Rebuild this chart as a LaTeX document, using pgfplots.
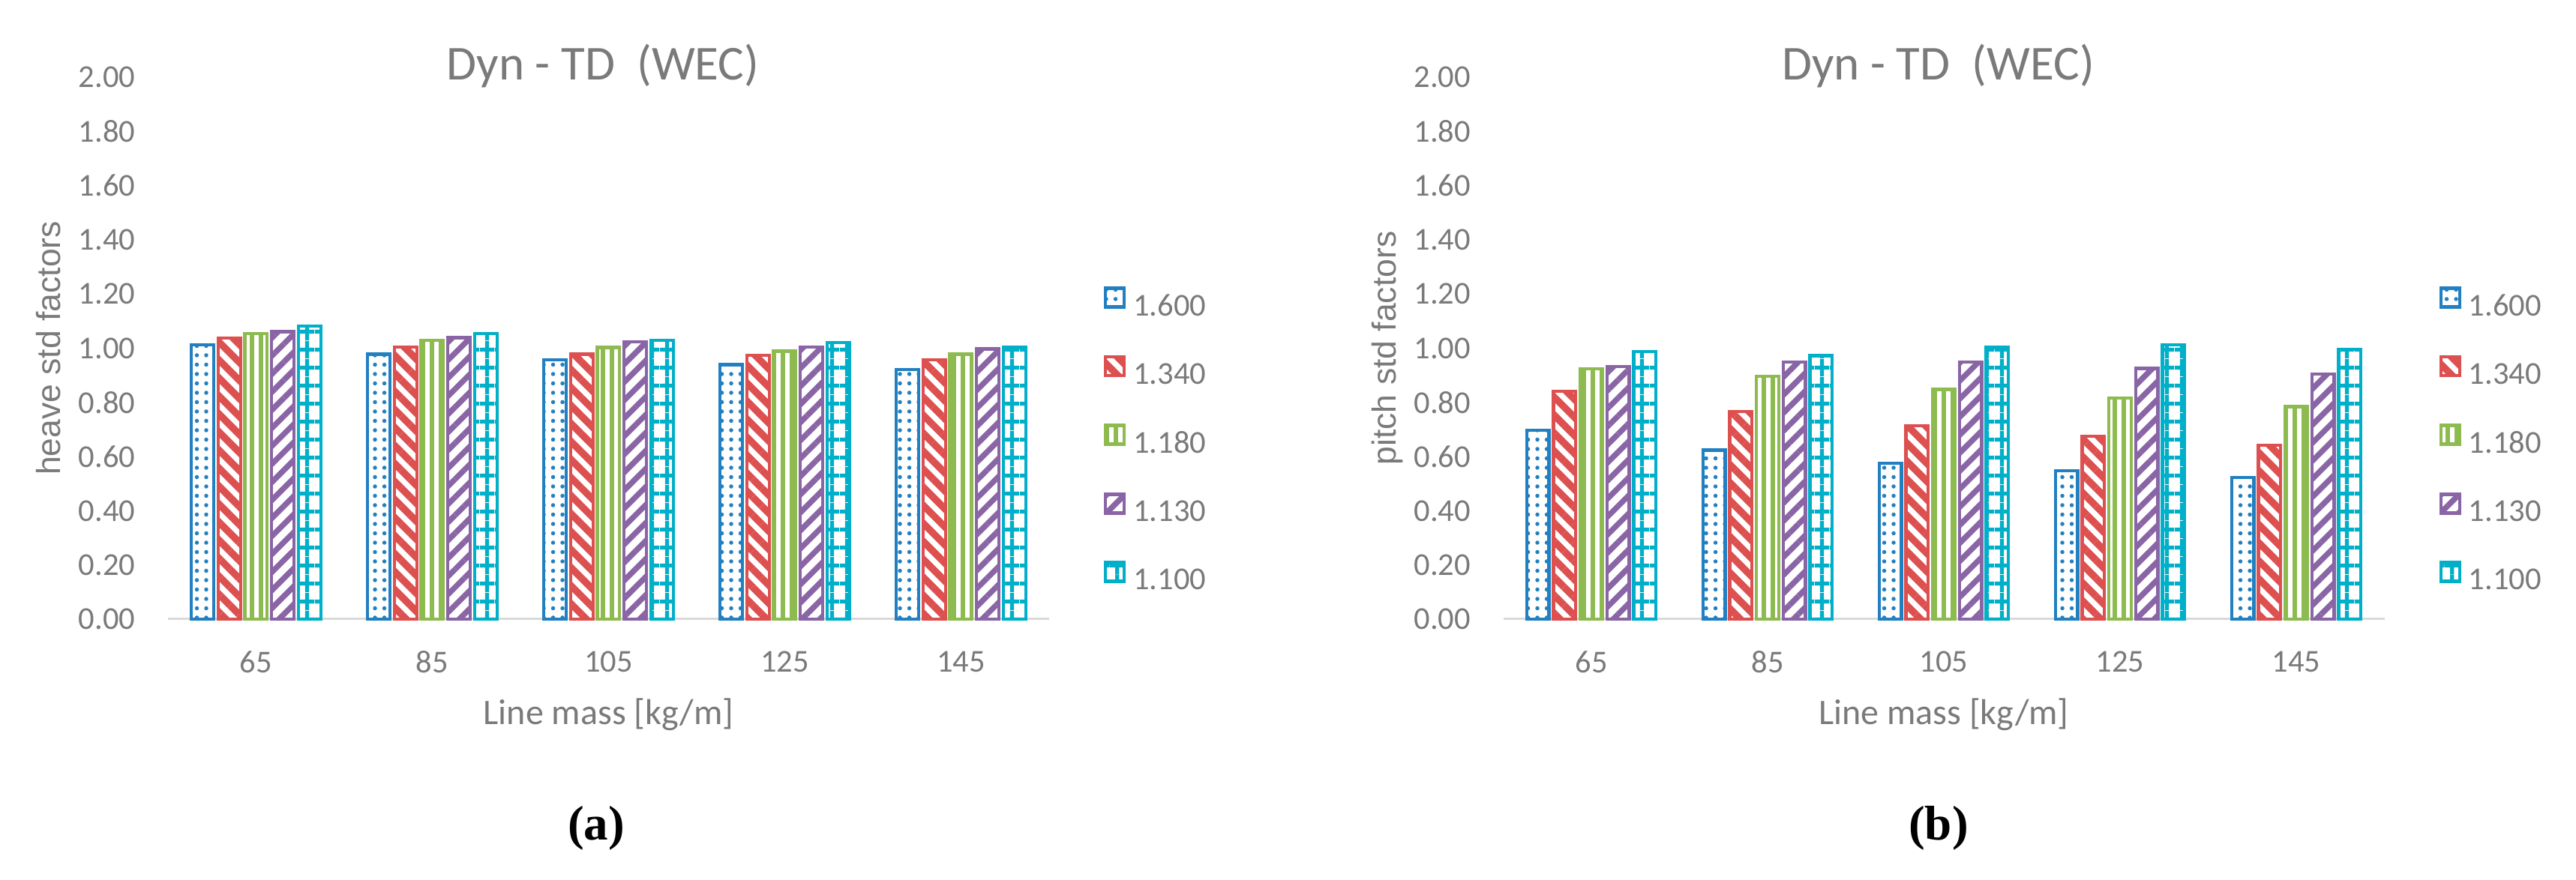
\documentclass[border=0pt]{standalone}
\usepackage{pgfplots}
\pgfplotsset{compat=1.18}
\usepackage{fontspec}
\setmainfont{Carlito}
\newfontfamily\labfont{Liberation Sans}
\newfontfamily\capfont{Liberation Serif}
\usetikzlibrary{patterns.meta}

\definecolor{cblue}{HTML}{2280C1}
\definecolor{cred}{HTML}{DD5050}
\definecolor{cgreen}{HTML}{8EBB50}
\definecolor{cpurple}{HTML}{8A65A6}
\definecolor{ccyan}{HTML}{01AFC8}
\definecolor{tcol}{HTML}{7A7A7A}
\definecolor{basecol}{HTML}{D9D9D9}

\tikzdeclarepattern{
  name=BigGrid,
  type=uncolored,
  bounding box={(0pt,0pt) and (4pt,4.8pt)},
  tile size={(4pt,4.8pt)},
  code={
    \draw[line width=1.1pt] (0pt,2.4pt) -- (4pt,2.4pt);
    \draw[line width=1.1pt] (2pt,0pt) -- (2pt,4.8pt);
  }
}

\pgfplotsset{
  panel/.style={
    scale only axis, height=144.6pt,
    ybar=1.19pt, bar width=5.95pt,
    xmin=-0.5, xmax=4.5, ymin=0, ymax=2,
    enlargelimits=false, clip=false,
    axis line style={draw=none},
    major tick length=0pt,
    xtick={0,1,2,3,4}, xticklabels={65,85,105,125,145},
    ytick={0,0.2,0.4,0.6,0.8,1.0,1.2,1.4,1.6,1.8,2.0},
    yticklabels={0.00,0.20,0.40,0.60,0.80,1.00,1.20,1.40,1.60,1.80,2.00},
    extra y ticks={0}, extra y tick labels={},
    extra y tick style={grid=major, major grid style={basecol, line width=0.6pt}},
    ticklabel style={font=\fontsize{8.5}{10}\selectfont, text=tcol},
    xticklabel style={yshift=-5.0pt},
    yticklabel style={xshift=-5.2pt},
    title={Dyn - TD~~(WEC)},
    title style={at={([xshift=-1.5pt]axis description cs:0.5,1)}, anchor=center, yshift=-3pt,
      font=\fontsize{13}{15}\selectfont, text=tcol},
    xlabel={Line mass [kg/m]},
    xlabel style={at={([yshift=-25.4pt]axis description cs:0.5,0)}, anchor=center,
      font=\fontsize{9.6}{11}\selectfont, text=tcol},
    ylabel style={anchor=center, font=\labfont\fontsize{8.9}{10}\selectfont, text=tcol},
    legend style={draw=none, fill=none, inner sep=0pt, anchor=north west,
      row sep=7.1pt, font=\fontsize{8.5}{10}\selectfont, text=tcol,
      /tikz/every even column/.append style={column sep=0pt}},
    legend cell align=left,
    legend image code/.code={\draw[#1, line width=0.85pt] (0pt,0.2pt) rectangle (5pt,5.2pt);},
  },
  sb/.style={draw=cblue, line width=0.85pt, pattern={Dots[distance=2.5pt, radius=0.55pt]}, pattern color=cblue},
  sr/.style={draw=cred, line width=0.85pt, pattern={Lines[angle=-45, distance=3.4pt, line width=1.9pt]}, pattern color=cred},
  sg/.style={draw=cgreen, line width=0.85pt, pattern={Lines[angle=90, distance=2.4pt, line width=1.1pt]}, pattern color=cgreen},
  sp/.style={draw=cpurple, line width=0.85pt, pattern={Lines[angle=45, distance=3.4pt, line width=1.5pt]}, pattern color=cpurple},
  sc/.style={draw=ccyan, line width=0.85pt, pattern=BigGrid, pattern color=ccyan},
}

\begin{document}
\begin{tikzpicture}
\useasboundingbox (0,0) rectangle (687pt,234.8pt);
\fill[white] (0,0) rectangle (687pt,234.8pt);

% ---------- (a) heave ----------
\begin{axis}[panel, width=235pt, at={(44.8pt,69.6pt)}, anchor=south west,
  ylabel={heave std factors},
  ylabel style={at={([xshift=-31.8pt]axis description cs:0,0.5)}},
  legend style={at={(1.0613,0.615)}}]
\addplot[sb] coordinates {(0,1.012) (1,0.978) (2,0.958) (3,0.939) (4,0.922)};
\addplot[sr] coordinates {(0,1.037) (1,1.005) (2,0.978) (3,0.974) (4,0.958)};
\addplot[sg] coordinates {(0,1.053) (1,1.028) (2,1.003) (3,0.989) (4,0.978)};
\addplot[sp] coordinates {(0,1.061) (1,1.039) (2,1.024) (3,1.005) (4,0.997)};
\addplot[sc] coordinates {(0,1.082) (1,1.053) (2,1.028) (3,1.020) (4,1.003)};
\legend{1.600,1.340,1.180,1.130,1.100}
\end{axis}

% ---------- (b) pitch ----------
\begin{axis}[panel, width=235pt, at={(400.9pt,69.6pt)}, anchor=south west,
  ylabel={pitch std factors},
  ylabel style={at={([xshift=-31pt]axis description cs:0,0.5)}},
  legend style={at={(1.0613,0.615)}}]
\addplot[sb] coordinates {(0,0.697) (1,0.624) (2,0.576) (3,0.547) (4,0.522)};
\addplot[sr] coordinates {(0,0.840) (1,0.767) (2,0.713) (3,0.674) (4,0.641)};
\addplot[sg] coordinates {(0,0.923) (1,0.896) (2,0.848) (3,0.815) (4,0.784)};
\addplot[sp] coordinates {(0,0.933) (1,0.949) (2,0.949) (3,0.925) (4,0.904)};
\addplot[sc] coordinates {(0,0.987) (1,0.972) (2,1.003) (3,1.012) (4,0.995)};
\legend{1.600,1.340,1.180,1.130,1.100}
\end{axis}

\node[font=\capfont\bfseries\fontsize{13}{15}\selectfont] at (159pt,13.8pt) {(a)};
\node[font=\capfont\bfseries\fontsize{13}{15}\selectfont] at (517pt,13.8pt) {(b)};
\end{tikzpicture}
\end{document}
